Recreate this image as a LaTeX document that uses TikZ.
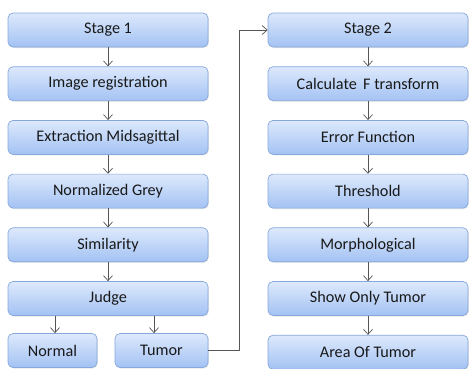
\documentclass[tikz,border=0pt]{standalone}
\usepackage{fontspec}
\setmainfont{Carlito}
\usetikzlibrary{arrows.meta, positioning, shadows}

\definecolor{boxtop}{HTML}{DDE9FC}
\definecolor{boxbottom}{HTML}{A3C2F3}
\definecolor{boxline}{HTML}{86A8DC}
\definecolor{arrowgray}{HTML}{555555}

\begin{document}
\begin{tikzpicture}[>={Straight Barb[length=5pt, width=9pt]}, line join=round, x=1pt, y=1pt,
    stagebox/.style={draw=boxline, line width=0.7pt, rounded corners=5pt,
        top color=boxtop, bottom color=boxbottom,
        minimum width=200pt, minimum height=34pt, inner sep=0pt,
        font=\fontsize{16.2}{19}\selectfont, text=black!90,
        drop shadow={opacity=0.2, shadow xshift=0.8pt, shadow yshift=-1pt}},
    smallbox/.style={stagebox, minimum width=90pt},
    flow/.style={->, draw=arrowgray, line width=0.7pt},
    node distance=19pt]

    % --- FRAME ---
    \useasboundingbox (0,0) rectangle (469,-368);

    % --- LEFT COLUMN ---
    \node[stagebox] (Stage1) at (108,-30) {Stage 1};
    \node[stagebox, below=of Stage1] (Register) {Image registration};
    \node[stagebox, below=of Register] (Extract) {Extraction Midsagittal};
    \node[stagebox, below=of Extract] (Grey) {Normalized Grey};
    \node[stagebox, below=of Grey] (Similar) {Similarity};
    \node[stagebox, below=of Similar] (Judge) {Judge};
    \node[smallbox, minimum width=89pt] (Normal) at (52.5,-350.5) {Normal};
    \node[smallbox, minimum width=93pt] (Tumor) at (161.5,-350.5) {Tumor};

    % --- RIGHT COLUMN ---
    \node[stagebox] (Stage2) at (368,-30) {Stage 2};
    \node[stagebox, below=of Stage2] (Transform) {Calculate \,F transform};
    \node[stagebox, below=of Transform] (ErrorFn) {Error Function};
    \node[stagebox, below=of ErrorFn] (Thresh) {Threshold};
    \node[stagebox, below=of Thresh] (Morph) {Morphological};
    \node[stagebox, below=of Morph] (ShowOnly) {Show Only Tumor};
    \node[stagebox, below=of ShowOnly] (Area) {Area Of Tumor};

    % --- ARROWS ---
    \foreach \a/\b in {Stage1/Register, Register/Extract, Extract/Grey, Grey/Similar,
        Similar/Judge, Stage2/Transform, Transform/ErrorFn, ErrorFn/Thresh,
        Thresh/Morph, Morph/ShowOnly, ShowOnly/Area}
        \draw[flow] (\a) -- (\b);

    \draw[flow] ([xshift=2.5pt]Judge.south -| Normal) -- ([xshift=2.5pt]Normal.north);
    \draw[flow] ([xshift=-7.5pt]Judge.south -| Tumor) -- ([xshift=-7.5pt]Tumor.north);

    % Tumor feeds Stage 2
    \coordinate (turn) at (239,0);
    \draw[flow] (Tumor.east) -- (Tumor.east -| turn) |- (Stage2.west);

\end{tikzpicture}
\end{document}
